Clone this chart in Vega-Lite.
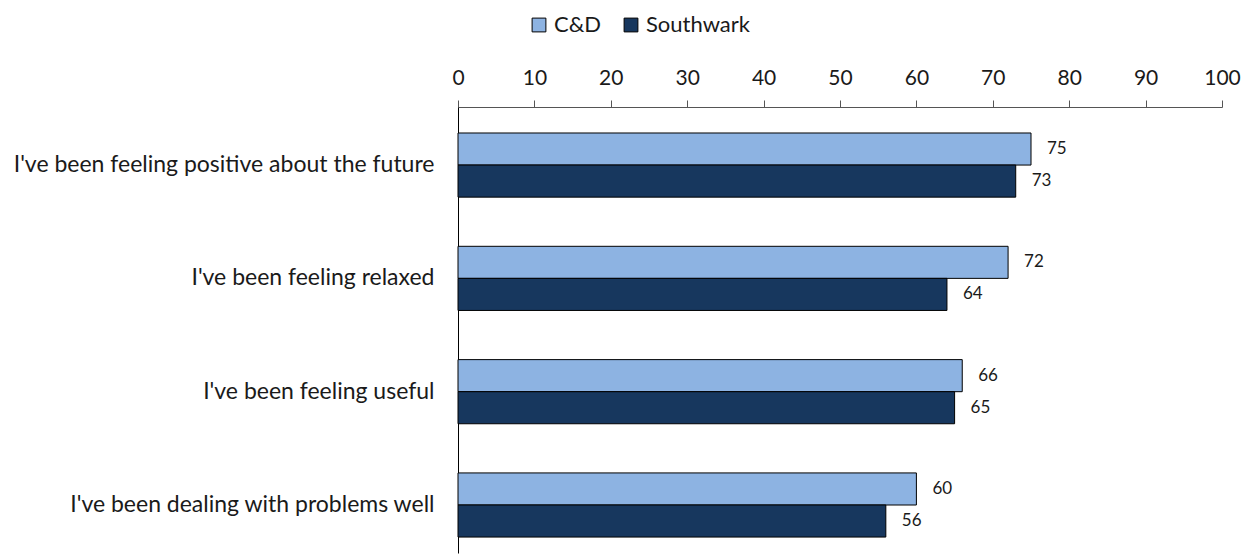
{
  "$schema": "https://vega.github.io/schema/vega-lite/v6.json",
  "autosize": "none",
  "width": 764,
  "height": 446,
  "padding": {"left": 458, "top": 107, "right": 25, "bottom": 1},
  "config": {
    "font": "Lato",
    "view": {"stroke": null},
    "axis": {"grid": false}
  },
  "data": {
    "values": [
      {"item": "I've been feeling positive about the future", "area": "C&D", "value": 75},
      {"item": "I've been feeling positive about the future", "area": "Southwark", "value": 73},
      {"item": "I've been feeling relaxed", "area": "C&D", "value": 72},
      {"item": "I've been feeling relaxed", "area": "Southwark", "value": 64},
      {"item": "I've been feeling useful", "area": "C&D", "value": 66},
      {"item": "I've been feeling useful", "area": "Southwark", "value": 65},
      {"item": "I've been dealing with problems well", "area": "C&D", "value": 60},
      {"item": "I've been dealing with problems well", "area": "Southwark", "value": 56}
    ]
  },
  "encoding": {
    "y": {
      "field": "item",
      "type": "nominal",
      "sort": null,
      "title": null,
      "scale": {"paddingInner": 0.434, "paddingOuter": 0.185, "align": 0.62},
      "axis": {
        "domainColor": "#000000",
        "domainWidth": 1,
        "ticks": false,
        "labelFontSize": 23,
        "labelFontWeight": "normal",
        "labelColor": "#1a1a1a",
        "labelPadding": 24,
        "labelLimit": 460
      }
    },
    "yOffset": {"field": "area", "type": "nominal", "sort": ["C&D", "Southwark"], "scale": {"paddingInner": 0, "paddingOuter": 0}},
    "x": {
      "field": "value",
      "type": "quantitative",
      "title": null,
      "scale": {"domain": [0, 100], "nice": false},
      "axis": {
        "orient": "top",
        "values": [0, 10, 20, 30, 40, 50, 60, 70, 80, 90, 100],
        "labelFlush": false,
        "domainColor": "#555555",
        "tickColor": "#555555",
        "tickSize": 7,
        "labelFontSize": 21,
        "labelFontWeight": "normal",
        "labelColor": "#1a1a1a",
        "labelPadding": 12
      }
    }
  },
  "layer": [
    {
      "mark": {"type": "bar", "stroke": "#000000", "strokeWidth": 1},
      "encoding": {
        "color": {
          "field": "area",
          "type": "nominal",
          "scale": {"domain": ["C&D", "Southwark"], "range": ["#8DB3E2", "#17375E"]},
          "legend": {
            "title": null,
            "orient": "none",
            "direction": "horizontal",
            "legendX": 70,
            "legendY": -93,
            "symbolType": "square",
            "symbolSize": 190,
            "symbolStrokeColor": "#000000",
            "symbolStrokeWidth": 1,
            "labelFontSize": 22,
            "labelFontWeight": "normal",
            "labelColor": "#1a1a1a",
            "labelOffset": 4,
            "columnPadding": 18
          }
        }
      }
    },
    {
      "mark": {"type": "text", "align": "left", "baseline": "middle", "dx": 16, "fontSize": 17, "fontWeight": "normal", "color": "#1a1a1a"},
      "encoding": {"text": {"field": "value", "type": "quantitative"}}
    }
  ]
}
